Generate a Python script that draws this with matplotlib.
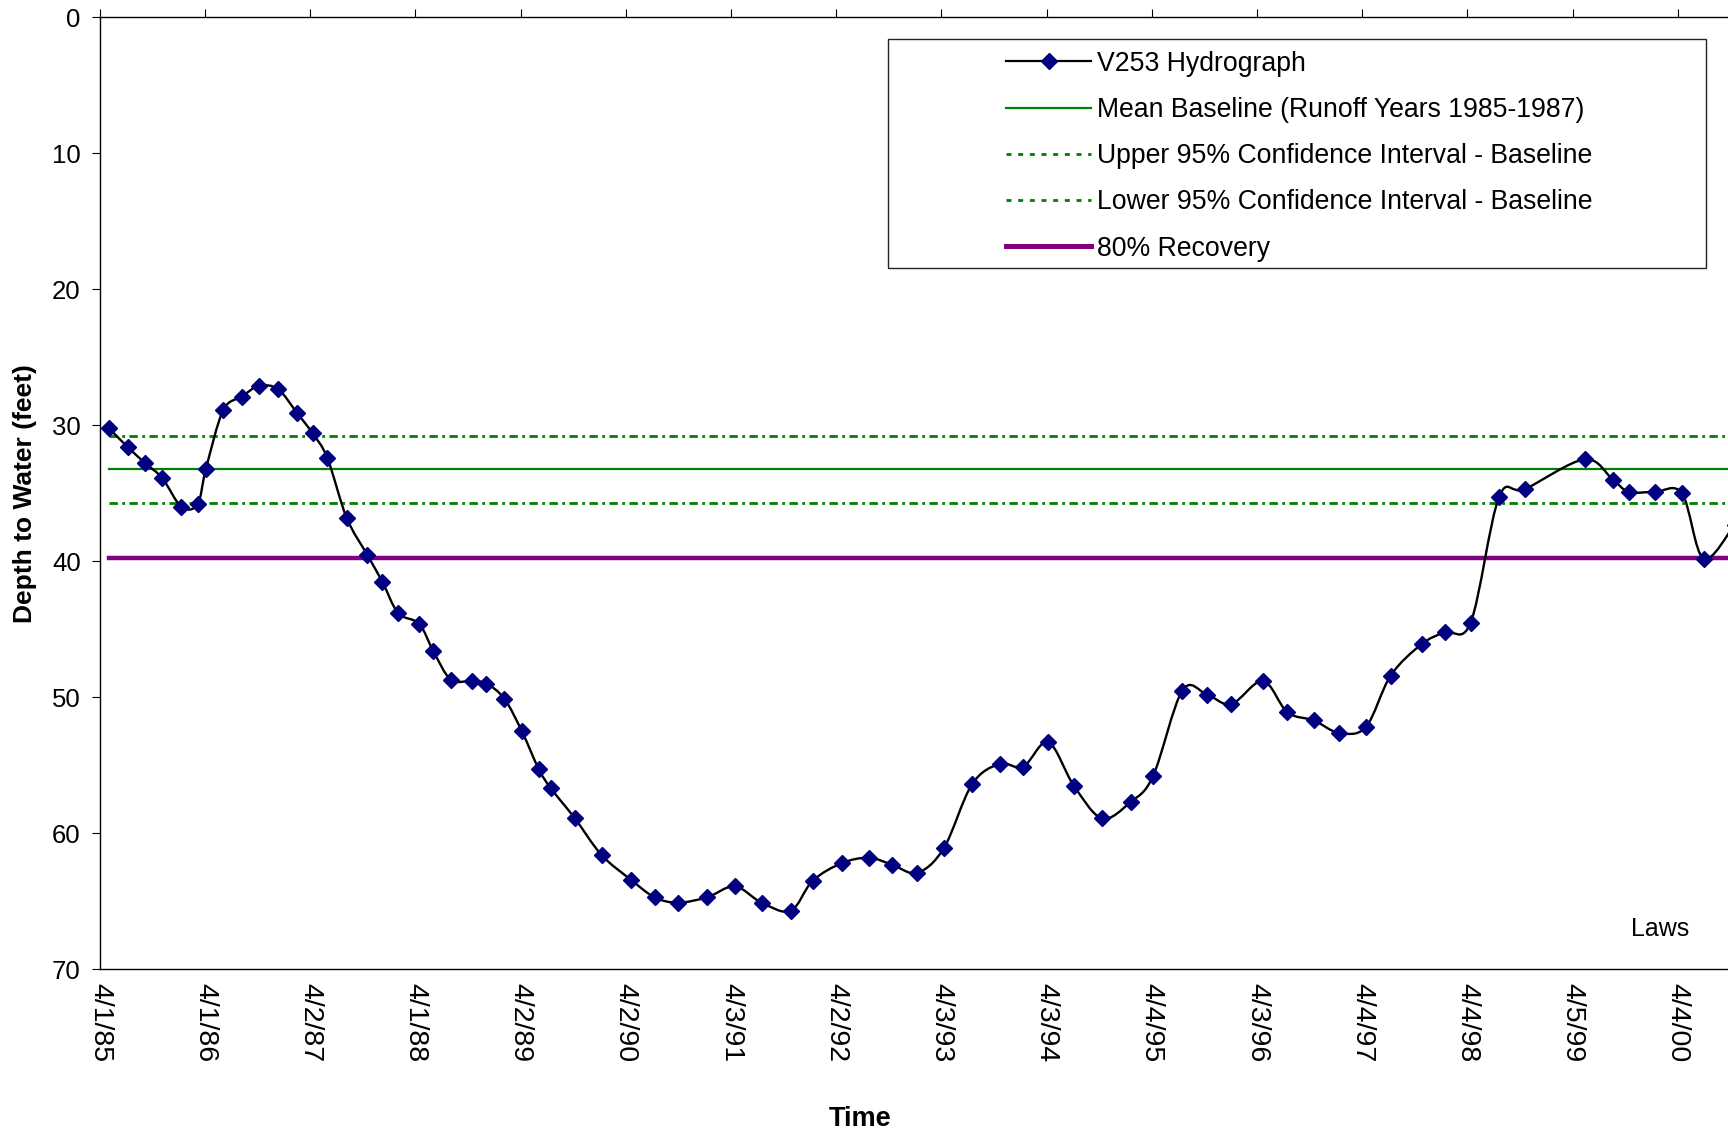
import numpy as np
import pandas as pd
import matplotlib
matplotlib.use("Agg")
import matplotlib.pyplot as plt
import matplotlib.dates as mdates
from matplotlib.path import Path
from matplotlib.patches import PathPatch, Rectangle
from matplotlib.lines import Line2D

plt.rcParams["font.family"] = ["Liberation Sans", "DejaVu Sans"]

# V253 hydrograph (depth to water, feet)
dates = [
    "1985-05-02", "1985-07-06", "1985-09-06", "1985-11-04", "1986-01-09", "1986-03-06",
    "1986-04-04", "1986-06-03", "1986-08-06", "1986-10-06", "1986-12-11", "1987-02-15",
    "1987-04-10", "1987-05-31", "1987-08-06", "1987-10-16", "1987-12-08", "1988-02-01",
    "1988-04-14", "1988-06-02", "1988-08-02", "1988-10-13", "1988-12-04", "1989-02-04",
    "1989-04-06", "1989-06-04", "1989-07-16", "1989-10-07", "1990-01-08", "1990-04-19",
    "1990-07-11", "1990-09-30", "1991-01-10", "1991-04-16", "1991-07-18", "1991-10-27",
    "1992-01-11", "1992-04-21", "1992-07-24", "1992-10-13", "1993-01-09", "1993-04-11",
    "1993-07-18", "1993-10-22", "1994-01-12", "1994-04-09", "1994-07-07", "1994-10-13",
    "1995-01-20", "1995-04-08", "1995-07-19", "1995-10-13", "1996-01-05", "1996-04-24",
    "1996-07-18", "1996-10-18", "1997-01-12", "1997-04-16", "1997-07-12", "1997-10-27",
    "1998-01-16", "1998-04-16", "1998-07-23", "1998-10-21", "1999-05-17", "1999-08-23",
    "1999-10-18", "2000-01-16", "2000-04-19", "2000-07-03", "2000-10-19",
]
depth = [
    30.2, 31.6, 32.8, 33.9, 36.0, 35.8,
    33.2, 28.9, 27.9, 27.1, 27.35, 29.1,
    30.6, 32.4, 36.8, 39.5, 41.5, 43.8,
    44.6, 46.6, 48.7, 48.8, 49.0, 50.1,
    52.5, 55.3, 56.7, 58.9, 61.6, 63.4,
    64.7, 65.1, 64.7, 63.9, 65.1, 65.7,
    63.5, 62.2, 61.8, 62.3, 62.9, 61.1,
    56.4, 54.9, 55.1, 53.3, 56.5, 58.9,
    57.7, 55.8, 49.5, 49.8, 50.5, 48.8,
    51.1, 51.7, 52.6, 52.2, 48.4, 46.1,
    45.2, 44.5, 35.3, 34.7, 32.5, 34.0,
    34.9, 34.9, 35.0, 39.8, 37.3,
]

mean_baseline = 33.2
upper_ci = 30.8
lower_ci = 35.7
recovery_80 = 39.75

tick_labels = ["4/1/85", "4/1/86", "4/2/87", "4/1/88", "4/2/89", "4/2/90", "4/3/91", "4/2/92",
               "4/3/93", "4/3/94", "4/4/95", "4/3/96", "4/4/97", "4/4/98", "4/5/99", "4/4/00"]
x_end = "2000-09-26"

navy = "#000080"
green = "#008000"
purple = "#800080"


def smooth_path(x, y):
    # Excel-style smoothed line: cubic Bezier segments through every point
    pts = np.column_stack([x, y])
    n = len(pts)
    verts = [pts[0]]
    codes = [Path.MOVETO]
    for i in range(n - 1):
        p0 = pts[i - 1] if i > 0 else pts[i]
        p1 = pts[i]
        p2 = pts[i + 1]
        p3 = pts[i + 2] if i + 2 < n else pts[i + 1]
        verts += [p1 + (p2 - p0) / 6, p2 - (p3 - p1) / 6, p2]
        codes += [Path.CURVE4] * 3
    return Path(verts, codes)


x = mdates.date2num(pd.to_datetime(dates))
tick_pos = mdates.date2num(pd.to_datetime(tick_labels, format="%m/%d/%y"))

fig = plt.figure(figsize=(17.28, 11.38), dpi=100)
ax = fig.add_axes([0.05787, 0.14824, 0.94213, 0.83655])

xs = [x[0], x[-1]]
ax.plot(xs, [upper_ci] * 2, color=green, lw=2, linestyle=(0, (3, 1.6, 1, 1.6)), zorder=2)
ax.plot(xs, [lower_ci] * 2, color=green, lw=2, linestyle=(0, (3, 1.6, 1, 1.6)), zorder=2)
ax.plot(xs, [mean_baseline] * 2, color=green, lw=1.6, zorder=2)
ax.plot(xs, [recovery_80] * 2, color=purple, lw=3.2, zorder=2)

ax.add_patch(PathPatch(smooth_path(x, depth), fill=False, edgecolor="black", lw=1.7, zorder=3))
ax.plot(x, depth, linestyle="none", marker="D", ms=8.5, mfc=navy, mec=navy, zorder=4)

ax.set_xlim(tick_pos[0], mdates.date2num(pd.Timestamp(x_end)))
ax.set_ylim(70, 0)
ax.set_yticks(range(0, 71, 10))
ax.set_xticks(tick_pos)
ax.set_xticklabels(tick_labels, rotation=270, fontsize=20.5, va="top", ha="center")
ax.tick_params(axis="x", top=True, bottom=False, labeltop=False, labelbottom=True,
               direction="out", length=5.8, width=0.8, pad=4)
ax.tick_params(axis="y", direction="out", length=5.8, width=0.8, pad=8, labelsize=18.5)
ax.spines["right"].set_visible(False)
for s in ["left", "top", "bottom"]:
    ax.spines[s].set_linewidth(1.0)

ax.set_ylabel("Depth to Water (feet)", fontsize=19, fontweight="bold")
ax.yaxis.set_label_coords(-0.0385, 0.5)
ax.set_xlabel("Time", fontsize=19.5, fontweight="bold")
ax.xaxis.set_label_coords(0.4668, -0.144)

ax.text(0.976, 0.0423, "Laws", transform=ax.transAxes, fontsize=18, ha="right", va="center")

# legend
handles = [
    Line2D([], [], color="black", lw=1.6, marker="D", ms=8.5, mfc=navy, mec=navy),
    Line2D([], [], color=green, lw=1.6),
    Line2D([], [], color=green, lw=2, linestyle=(0, (1.8, 2.4))),
    Line2D([], [], color=green, lw=2, linestyle=(0, (1.8, 2.4))),
    Line2D([], [], color=purple, lw=3.6),
]
labels = ["V253 Hydrograph", "Mean Baseline (Runoff Years 1985-1987)",
          "Upper 95% Confidence Interval - Baseline", "Lower 95% Confidence Interval - Baseline",
          "80% Recovery"]
fig.add_artist(Rectangle((0.5139, 0.7645), 0.4734, 0.2016, transform=fig.transFigure,
                         facecolor="white", edgecolor="#222222", lw=1.0, zorder=5))
leg = fig.legend(handles, labels, loc="upper left", bbox_to_anchor=(0.5822, 0.9555),
                 frameon=False, fontsize=19.2, borderpad=0, borderaxespad=0,
                 handlelength=3.2, handletextpad=0.2, labelspacing=0.76, numpoints=1)
leg.set_zorder(6)

fig.savefig("out.png", dpi=100)
